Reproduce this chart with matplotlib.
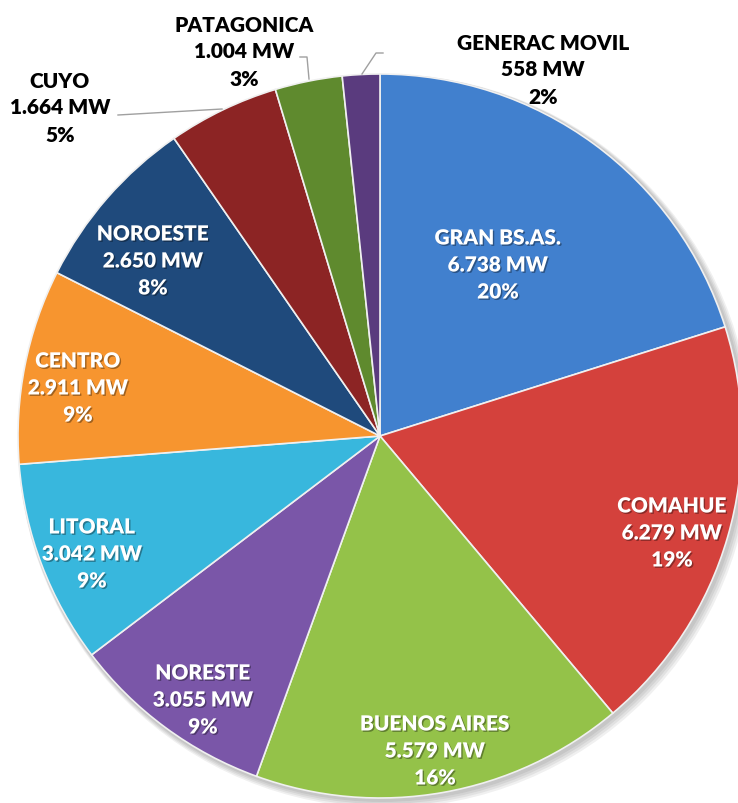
import matplotlib
matplotlib.use("Agg")
import matplotlib.pyplot as plt
from matplotlib.patches import Circle
import matplotlib.patheffects as pe

names = ["GRAN BS.AS.", "COMAHUE", "BUENOS AIRES", "NORESTE", "LITORAL",
         "CENTRO", "NOROESTE", "CUYO", "PATAGONICA", "GENERAC MOVIL"]
mw_values = [6738, 6279, 5579, 3055, 3042, 2911, 2650, 1664, 1004, 558]
mw_labels = ["6.738 MW", "6.279 MW", "5.579 MW", "3.055 MW", "3.042 MW",
             "2.911 MW", "2.650 MW", "1.664 MW", "1.004 MW", "558 MW"]
pct_labels = ["20%", "19%", "16%", "9%", "9%", "9%", "8%", "5%", "3%", "2%"]

colors = ["#4180CE", "#D4413C", "#94C249", "#7A56A8", "#38B7DD",
          "#F7952F", "#1F4A7C", "#8C2424", "#5F8A2E", "#5A3B7E"]

W, H = 738, 804
fig = plt.figure(figsize=(W / 100, H / 100), dpi=100)
ax = fig.add_axes([0, 0, 1, 1])

cx, cy, R = 380, H - 437, 362

# soft shadow
for i in range(4):
    ax.add_patch(Circle((cx + 2 + i, cy - 2 - i), R + 2 + i, color="#000000",
                        alpha=0.06, lw=0, zorder=0))

wedges, _ = ax.pie(mw_values, colors=colors, startangle=90, counterclock=False,
                   center=(cx, cy), radius=R,
                   wedgeprops=dict(edgecolor="#f0f0f0", linewidth=1.2))
for w in wedges:
    w.set_zorder(2)

font = dict(family=["Lato", "DejaVu Sans"], fontweight="heavy", fontsize=15)

# label layout (pixel positions of label centers, colour)
label_pos = [(498, 266), (672, 534), (435, 752), (203, 701), (92, 555),
             (78, 389), (153, 262), (60, 108), (244, 52), (543, 70)]
label_col = ["white"] * 7 + ["black"] * 3

for i, (x, y) in enumerate(label_pos):
    t = ax.text(x, H - y, f"{names[i]}\n{mw_labels[i]}\n{pct_labels[i]}",
                ha="center", va="center", color=label_col[i], linespacing=1.5,
                zorder=5, **font)
    if label_col[i] == "white":
        t.set_path_effects([pe.withSimplePatchShadow(offset=(1, -1), shadow_rgbFace="black", alpha=0.35)])

# leader lines
leaders = [
    [(118, 116), (222, 110)],
    [(300, 58), (307, 58), (309, 80)],
    [(383, 54), (376, 54), (362, 75)],
]
for pts in leaders:
    xs = [p[0] for p in pts]
    ys = [H - p[1] for p in pts]
    ax.plot(xs, ys, color="#a0a0a0", lw=1, zorder=4)

ax.set_xlim(0, W)
ax.set_ylim(0, H)
ax.set_aspect("equal")
ax.axis("off")
fig.savefig("out.png", dpi=100, facecolor="white")
